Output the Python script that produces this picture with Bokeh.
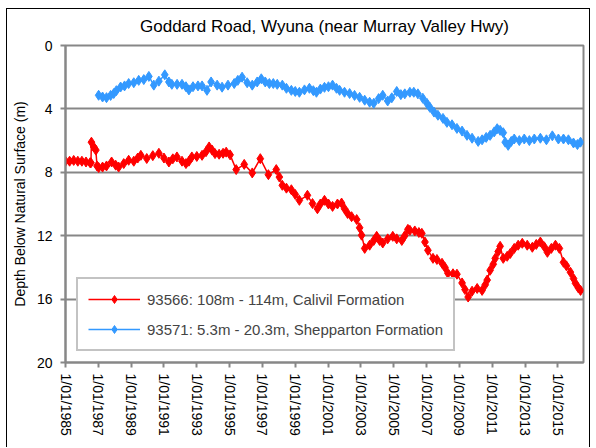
import math
import pandas as pd
from bokeh.plotting import figure
from bokeh.models import Range1d, FixedTicker, Legend, LegendItem, ColumnDataSource
from bokeh.embed import file_html
from bokeh.resources import INLINE

# ---------------- data ----------------
title_text = "Goddard Road, Wyuna (near Murray Valley Hwy)"
y_label = "Depth Below Natural Surface (m)"
name_red = "93566: 108m - 114m, Calivil Formation"
name_blue = "93571: 5.3m - 20.3m, Shepparton Formation"

tick_years = [1985, 1987, 1989, 1991, 1993, 1995, 1997, 1999, 2001, 2003, 2005,
              2007, 2009, 2011, 2013, 2015]
tick_labels = ["1/01/%d" % y for y in tick_years]
y_ticks = [0, 4, 8, 12, 16, 20]

# 93571 (Shepparton) - decimal year, depth (m)
blue_year = [1987.02, 1987.26, 1987.5, 1987.75, 1987.94, 1988.1, 1988.36, 1988.6, 1988.85,
             1989.16, 1989.46, 1989.77, 1990.08, 1990.38, 1990.69, 1991.05, 1991.3, 1991.48,
             1991.8, 1992.1, 1992.34, 1992.52, 1992.77, 1993.07, 1993.32, 1993.62, 1993.87,
             1994.24, 1994.54, 1994.9, 1995.28, 1995.5, 1995.76, 1996.07, 1996.38, 1996.68,
             1996.93, 1997.17, 1997.42, 1997.66, 1997.9, 1998.21, 1998.46, 1998.76, 1999.0,
             1999.25, 1999.56, 1999.86, 2000.1, 2000.29, 2000.53, 2000.78, 2001.02, 2001.27,
             2001.51, 2001.7, 2002.0, 2002.31, 2002.61, 2002.92, 2003.23, 2003.53, 2003.78,
             2004.08, 2004.33, 2004.63, 2004.88, 2005.18, 2005.43, 2005.67, 2005.98, 2006.22,
             2006.47, 2006.77, 2007.02, 2007.2, 2007.45, 2007.69, 2008.0, 2008.24, 2008.55,
             2008.85, 2009.16, 2009.46, 2009.77, 2010.14, 2010.38, 2010.63, 2010.87, 2011.12,
             2011.3, 2011.48, 2011.67, 2011.79, 2011.97, 2012.16, 2012.34, 2012.65, 2012.95,
             2013.26, 2013.56, 2013.93, 2014.3, 2014.66, 2015.03, 2015.34, 2015.64, 2015.95,
             2016.19, 2016.38]
blue_depth = [3.14, 3.25, 3.29, 3.15, 3.03, 2.85, 2.62, 2.55, 2.40,
              2.35, 2.2, 2.15, 1.95, 2.5, 2.25, 1.85, 2.3, 2.45,
              2.45, 2.45, 2.6, 2.8, 2.6, 2.55, 2.55, 2.83, 2.3,
              2.5, 2.63, 2.5, 2.4, 2.2, 2.0, 2.35, 2.5, 2.3,
              2.1, 2.3, 2.4, 2.4, 2.45, 2.5, 2.7, 2.83, 2.9,
              2.95, 2.8, 2.7, 2.85, 2.95, 2.75, 2.64, 2.6, 2.5,
              2.7, 2.83, 2.95, 3.03, 3.15, 3.27, 3.45, 3.58, 3.65,
              3.35, 3.14, 3.5, 3.3, 2.9, 3.1, 3.05, 2.95, 2.95,
              3.05, 3.33, 3.65, 3.9, 4.2, 4.4, 4.6, 4.85, 5.0,
              5.23, 5.4, 5.67, 5.85, 6.05, 5.95, 5.8, 5.67, 5.45,
              5.25, 5.35, 5.5, 6.1, 6.3, 6.05, 5.9, 6.0, 5.9,
              6.0, 5.9, 5.85, 5.95, 5.7, 5.9, 5.9, 5.95, 6.15,
              6.25, 6.1]

# 93566 (Calivil) - decimal year, depth (m)
red_year = [1985.0, 1985.25, 1985.5, 1985.75, 1986.0, 1986.25, 1986.5, 1986.55, 1986.58,
            1986.72, 1986.85, 1986.92, 1987.02, 1987.26, 1987.5, 1987.81, 1988.06, 1988.24,
            1988.55, 1988.85, 1989.16, 1989.4, 1989.59, 1989.95, 1990.32, 1990.69, 1991.0,
            1991.3, 1991.54, 1991.79, 1992.1, 1992.34, 1992.52, 1992.7, 1993.0, 1993.32,
            1993.56, 1993.75, 1993.93, 1994.11, 1994.36, 1994.6, 1994.79, 1995.03, 1995.4,
            1995.89, 1996.38, 1996.87, 1997.36, 1997.84, 1998.03, 1998.21, 1998.46, 1998.76,
            1999.0, 1999.25, 1999.74, 2000.05, 2000.35, 2000.53, 2000.78, 2001.02, 2001.27,
            2001.57, 2001.82, 2002.0, 2002.19, 2002.43, 2002.74, 2002.92, 2003.04, 2003.23,
            2003.53, 2003.78, 2003.96, 2004.14, 2004.33, 2004.63, 2004.94, 2005.18, 2005.49,
            2005.67, 2005.86, 2005.98, 2006.28, 2006.53, 2006.71, 2006.9, 2007.08, 2007.39,
            2007.63, 2007.94, 2008.12, 2008.3, 2008.61, 2008.85, 2009.16, 2009.34, 2009.53,
            2009.77, 2010.08, 2010.38, 2010.57, 2010.69, 2010.87, 2011.06, 2011.18, 2011.36,
            2011.48, 2011.67, 2011.91, 2012.1, 2012.34, 2012.58, 2012.83, 2013.13, 2013.44,
            2013.68, 2013.93, 2014.17, 2014.36, 2014.6, 2014.85, 2015.09, 2015.34, 2015.52,
            2015.76, 2015.95, 2016.07, 2016.25, 2016.38]
red_depth = [7.3, 7.3, 7.25, 7.3, 7.3, 7.35, 7.4, 7.4, 6.1,
             6.4, 6.6, 7.6, 7.7, 7.67, 7.6, 7.35, 7.55, 7.67,
             7.45, 7.24, 7.3, 7.1, 6.93, 7.13, 6.95, 6.8, 7.1,
             7.35, 7.15, 7.03, 7.3, 7.45, 7.3, 7.03, 7.0, 6.93,
             6.7, 6.4, 6.6, 6.82, 6.86, 6.8, 6.73, 6.9, 7.83,
             7.5, 8.04, 7.14, 8.15, 7.83, 8.3, 8.82, 9.0, 9.1,
             9.4, 9.77, 9.45, 9.97, 10.3, 10.0, 9.77, 10.0, 10.15,
             10.0, 9.94, 10.3, 10.6, 10.8, 10.98, 11.5, 11.97, 12.8,
             12.6, 12.3, 12.04, 12.3, 12.46, 12.2, 12.04, 12.2, 12.3,
             12.0, 11.6, 11.66, 11.7, 11.8, 11.85, 12.4, 12.92, 13.43,
             13.5, 13.74, 14.0, 14.37, 14.4, 14.43, 14.98, 15.4, 15.87,
             15.5, 15.33, 15.45, 15.1, 14.8, 14.18, 13.8, 13.43, 13.0,
             12.67, 13.43, 13.3, 13.12, 12.8, 12.6, 12.48, 12.6, 12.73,
             12.55, 12.4, 12.7, 13.05, 12.8, 12.6, 12.8, 13.68, 13.9,
             14.3, 14.7, 15.0, 15.3, 15.45]

x_start_year = 1985.0
x_end_year = 2016.56


def to_dt(yr):
    y = int(math.floor(yr))
    return pd.Timestamp(y, 1, 1) + pd.Timedelta(days=(yr - y) * 365.25)


def to_ms(yr):
    return float(to_dt(yr).value // 10**6)


blue_src = ColumnDataSource(dict(x=[to_dt(v) for v in blue_year], y=blue_depth))
red_src = ColumnDataSource(dict(x=[to_dt(v) for v in red_year], y=red_depth))

# ---------------- figure ----------------
FONT = "Liberation Sans"
GRAY = "#878787"

p = figure(width=584, height=439, x_axis_type="datetime",
           x_range=Range1d(to_dt(x_start_year), to_dt(x_end_year)),
           y_range=Range1d(20, 0),
           output_backend="svg", toolbar_location=None,
           min_border_left=58, min_border_right=8, min_border_top=36, min_border_bottom=86)
p.styles = {"margin-left": "6px", "margin-top": "8px",
            "border-left": "1px solid black", "border-top": "1px solid black",
            "border-right": "1px solid black"}

p.title.text = title_text
p.title.align = "center"
p.title.vertical_align = "top"
p.title.text_font = FONT
p.title.text_font_size = "17px"
p.title.text_font_style = "normal"
p.title.text_color = "black"
p.title.standoff = 15

p.outline_line_color = GRAY
p.outline_line_width = 2
p.xgrid.visible = False
p.ygrid.grid_line_color = GRAY
p.ygrid.grid_line_width = 2
p.ygrid.ticker = FixedTicker(ticks=y_ticks)

tick_ms = [to_ms(y) for y in tick_years]
p.xaxis.ticker = FixedTicker(ticks=tick_ms)
p.xaxis.major_label_overrides = {k: v for k, v in zip(tick_ms, tick_labels)}
p.xaxis.major_label_orientation = -math.pi / 2
p.yaxis.ticker = FixedTicker(ticks=y_ticks)
p.yaxis.axis_label = y_label

for ax in (p.xaxis[0], p.yaxis[0]):
    ax.axis_line_color = GRAY
    ax.axis_line_width = 2
    ax.major_tick_line_color = GRAY
    ax.major_tick_line_width = 2
    ax.major_tick_out = 5
    ax.major_tick_in = 0
    ax.minor_tick_line_color = None
    ax.major_label_text_font = FONT
    ax.major_label_text_font_size = "14px"
    ax.major_label_text_color = "black"
    ax.axis_label_text_font = FONT
    ax.axis_label_text_font_size = "14px"
    ax.axis_label_text_font_style = "normal"
    ax.axis_label_text_color = "black"
p.yaxis.major_label_standoff = 8
p.yaxis.axis_label_standoff = 6
p.xaxis.major_label_standoff = 6

RED = "#FF0000"
BLUE = "#3399FF"
rl = p.line("x", "y", source=red_src, color=RED, line_width=1.5)
rs = p.scatter("x", "y", source=red_src, marker="diamond", size=10, color=RED)
bl = p.line("x", "y", source=blue_src, color=BLUE, line_width=1.5)
bs = p.scatter("x", "y", source=blue_src, marker="diamond", size=10, color=BLUE)

legend = Legend(items=[LegendItem(label=name_red, renderers=[rl, rs]),
                       LegendItem(label=name_blue, renderers=[bl, bs])],
                location="bottom_left")
legend.margin = 11
legend.padding = 10
legend.spacing = 10
legend.glyph_width = 52
legend.glyph_height = 20
legend.label_height = 20
legend.label_standoff = 7
legend.label_text_font = FONT
legend.label_text_font_size = "15px"
legend.border_line_color = GRAY
legend.border_line_width = 2
legend.background_fill_alpha = 1
p.add_layout(legend)

open("out.html", "w").write(file_html(p, INLINE))
